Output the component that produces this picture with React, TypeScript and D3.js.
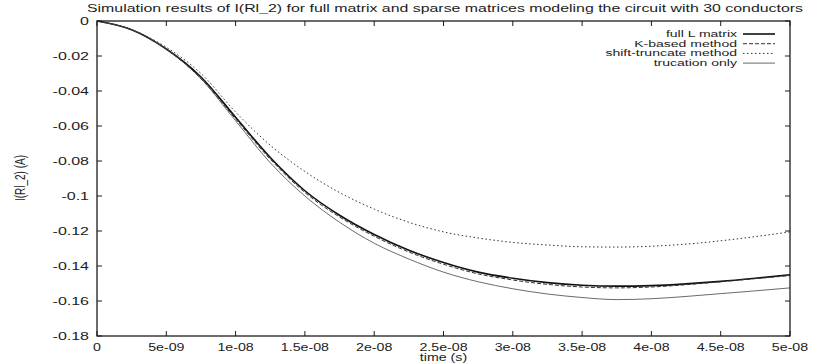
import React from 'react';
import * as d3 from 'd3';

const title = 'Simulation results of I(Rl_2) for full matrix and sparse matrices modeling the circuit with 30 conductors';
const xLabel = 'time (s)';
const yLabel = 'I(Rl_2) (A)';

// sample times (s)
const timeS = [0, 2.5e-9, 5e-9, 7.5e-9, 1e-8, 1.25e-8, 1.5e-8, 1.75e-8, 2e-8, 2.25e-8, 2.5e-8,
  2.75e-8, 3e-8, 3.25e-8, 3.5e-8, 3.75e-8, 4e-8, 4.25e-8, 4.5e-8, 4.75e-8, 5e-8];

const fullL = [0, -0.005, -0.016, -0.032, -0.055, -0.078, -0.097, -0.111, -0.122, -0.131, -0.138,
  -0.1435, -0.147, -0.1495, -0.151, -0.1515, -0.1512, -0.1502, -0.1488, -0.147, -0.145];
const kBased = [0, -0.005, -0.016, -0.033, -0.056, -0.079, -0.098, -0.112, -0.123, -0.132, -0.139,
  -0.1445, -0.148, -0.1505, -0.152, -0.1525, -0.152, -0.1507, -0.149, -0.1472, -0.1455];
const shiftTruncate = [0, -0.005, -0.015, -0.030, -0.052, -0.071, -0.086, -0.098, -0.1075, -0.115, -0.1205,
  -0.124, -0.1265, -0.128, -0.129, -0.1292, -0.1287, -0.1275, -0.1256, -0.1232, -0.1205];
const truncOnly = [0, -0.005, -0.016, -0.033, -0.057, -0.081, -0.100, -0.115, -0.127, -0.136, -0.1435,
  -0.149, -0.153, -0.156, -0.158, -0.1592, -0.1587, -0.1574, -0.1558, -0.1542, -0.1525];

const seriesNames = ['full L matrix', 'K-based method', 'shift-truncate method', 'trucation only'];

const xTicks = [0, 5e-9, 1e-8, 1.5e-8, 2e-8, 2.5e-8, 3e-8, 3.5e-8, 4e-8, 4.5e-8, 5e-8];
const xTickLabels = ['0', '5e-09', '1e-08', '1.5e-08', '2e-08', '2.5e-08', '3e-08', '3.5e-08', '4e-08', '4.5e-08', '5e-08'];
const yTicks = [0, -0.02, -0.04, -0.06, -0.08, -0.1, -0.12, -0.14, -0.16, -0.18];
const yTickLabels = ['0', '-0.02', '-0.04', '-0.06', '-0.08', '-0.1', '-0.12', '-0.14', '-0.16', '-0.18'];

const W = 813;
const H = 364;
const margin = { top: 21, right: 23, bottom: 28, left: 97 };
const font = 'Liberation Sans, Arial, sans-serif';
const ink = '#1c1c1c';

const styles = [
  { width: 1.6, dash: 'none', color: '#111' },
  { width: 1, dash: '4,2', color: '#333' },
  { width: 1, dash: '1.5,2.5', color: '#333' },
  { width: 0.8, dash: 'none', color: '#444' },
];

const App = () => {
  const x = d3.scaleLinear().domain([0, 5e-8]).range([margin.left, W - margin.right]);
  const y = d3.scaleLinear().domain([-0.18, 0]).range([H - margin.bottom, margin.top]);
  const line = d3.line<number>()
    .x((_, i) => x(timeS[i]))
    .y(d => y(d))
    .curve(d3.curveMonotoneX);

  const all = [fullL, kBased, shiftTruncate, truncOnly];
  const [x0, x1] = x.range();
  const [y0, y1] = y.range();

  // the scanned text is wider than tall, so stretch it sideways
  const sText = (tx: number, ty: number, s: string, anchor: string, size = 10, stretch = 1.42) => (
    <text transform={`translate(${tx},${ty}) scale(${stretch},1)`} textAnchor={anchor}
      fontSize={size} fontFamily={font} fill={ink}>{s}</text>
  );

  return (
    <svg width={W} height={H} style={{ position: 'absolute', left: 0, top: 0, background: '#fff' }}>
      <text x={445} y={12} textAnchor="middle" fontSize={10.5} fontFamily={font} fill={ink}
        textLength={716} lengthAdjust="spacingAndGlyphs">{title}</text>

      {/* ticks, inward on all four sides */}
      {xTicks.map((t, i) => (
        <g key={'xt' + i}>
          <line x1={x(t)} x2={x(t)} y1={y0} y2={y0 - 5} stroke={ink} />
          <line x1={x(t)} x2={x(t)} y1={y1} y2={y1 + 5} stroke={ink} />
          {sText(x(t), 351, xTickLabels[i], 'middle')}
        </g>
      ))}
      {yTicks.map((v, i) => (
        <g key={'yt' + i}>
          <line x1={x0} x2={x0 + 5} y1={y(v)} y2={y(v)} stroke={ink} />
          <line x1={x1} x2={x1 - 5} y1={y(v)} y2={y(v)} stroke={ink} />
          {sText(89, y(v) + 3.5, yTickLabels[i], 'end', 10, 1.6)}
        </g>
      ))}
      {sText((x0 + x1) / 2, 361, xLabel, 'middle')}
      <text transform={`translate(25,178) rotate(-90) scale(1,1.42)`} textAnchor="middle"
        fontSize={10} fontFamily={font} fill={ink}>{yLabel}</text>

      {all.map((d, i) => (
        <path key={'s' + i} d={line(d) || ''} fill="none" stroke={styles[i].color}
          strokeWidth={styles[i].width} strokeDasharray={styles[i].dash} />
      ))}

      {/* legend */}
      {seriesNames.map((n, i) => (
        <g key={'lg' + i}>
          {sText(737, 37 + i * 9.7, n, 'end', 8.5, 1.65)}
          <line x1={743} x2={775} y1={34 + i * 9.7} y2={34 + i * 9.7} stroke={styles[i].color}
            strokeWidth={styles[i].width} strokeDasharray={styles[i].dash} />
        </g>
      ))}

      <rect x={x0} y={y1} width={x1 - x0} height={y0 - y1} fill="none" stroke={ink} strokeWidth={1.3} />
    </svg>
  );
};

export default App;
